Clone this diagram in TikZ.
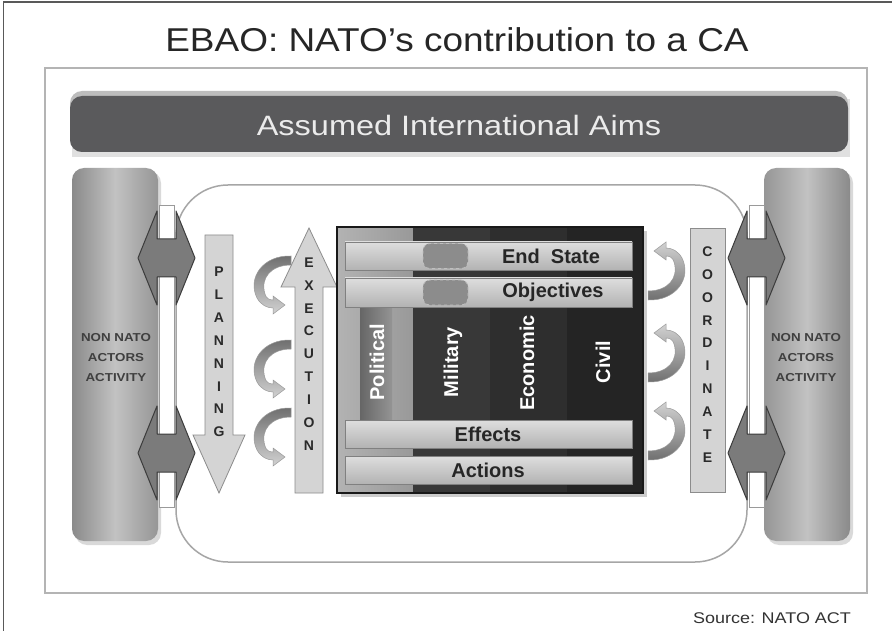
\documentclass[tikz,border=0pt]{standalone}
\usepackage{fontspec}
\setmainfont{Liberation Sans}
\usepackage{graphicx}
\definecolor{framegray}{HTML}{B4B4B4}
\definecolor{aimbar}{HTML}{5A5A5C}
\definecolor{aimtop}{HTML}{BDBDBD}
\definecolor{boxdark}{HTML}{8A8A8A}
\definecolor{boxlight}{HTML}{C2C2C2}
\definecolor{arrowgray}{HTML}{7B7B7B}
\definecolor{arrowdark}{HTML}{3C3C3C}
\definecolor{pipeline}{HTML}{9A9A9A}
\definecolor{lightfill}{HTML}{D4D4D4}
\definecolor{lightline}{HTML}{8C8C8C}
\definecolor{curldark}{HTML}{6E6E6E}
\definecolor{curllight}{HTML}{D2D2D2}
\definecolor{textdark}{HTML}{2A2A2A}
\newcommand{\hstretch}[1]{\scalebox{1.16}[1]{#1}}
\tikzset{
  dbl/.style={fill=arrowgray, draw=arrowdark, line width=1pt, line join=round},
  pipe/.style={fill=white, draw=pipeline, line width=0.8pt},
  lightarrow/.style={fill=lightfill, draw=lightline, line width=0.8pt, line join=miter},
  vlet/.style={font=\fontsize{14}{22.9}\selectfont\bfseries, align=center, inner sep=0pt, text=textdark},
  actor/.style={font=\fontsize{11.5}{20}\selectfont\bfseries, align=center, inner sep=0pt, text=textdark!90},
  barbox/.style={top color=black!13, bottom color=black!30, draw=black!50, line width=0.8pt},
  bartext/.style={font=\fontsize{20}{22}\selectfont\bfseries, text=black!85, inner sep=0pt},
  coltext/.style={font=\fontsize{20}{22}\selectfont\bfseries, text=white, inner sep=0pt, rotate=90},
  puzzle/.style={fill=black!45, draw=black!25, dashed, line width=0.8pt, rounded corners=7pt, minimum width=45pt, minimum height=25pt, inner sep=0pt},
  pics/dblarrow/.style={code={
    \draw[dbl] (-28.5,0) -- (-9.5,-47) -- (-9.5,-19) -- (9.5,-19) -- (9.5,-47) -- (28.5,0)
      -- (9.5,47) -- (9.5,19) -- (-9.5,19) -- (-9.5,47) -- cycle;}},
  pics/curlL/.style={code={
    \shade[top color=curldark, bottom color=curllight, draw=black!40, line width=0.5pt]
      (0,0) .. controls (-28,-1) and (-44,22) .. (-34,42) .. controls (-30,49) and (-24,52) .. (-18,52)
      -- (-18,58) -- (-6,49) -- (-18,40) -- (-18,44)
      .. controls (-22,44) and (-25,42) .. (-26,38) .. controls (-31,22) and (-20,9) .. (0,9) -- cycle;}},
  pics/curlR/.style={code={
    \shade[top color=curllight, bottom color=curldark, draw=black!40, line width=0.5pt]
      (0,0) .. controls (28,1) and (44,-22) .. (34,-42) .. controls (30,-49) and (24,-52) .. (18,-52)
      -- (18,-58) -- (6,-49) -- (18,-40) -- (18,-44)
      .. controls (22,-44) and (25,-42) .. (26,-38) .. controls (31,-22) and (20,-9) .. (0,-9) -- cycle;}}
}
\begin{document}
\begin{tikzpicture}[x=1pt,y=-1pt]
\useasboundingbox (0,0) rectangle (892,631);
\fill[white] (0,0) rectangle (892,631);
% outer image border
\draw[black!65, line width=1.5pt] (3.5,631) -- (3.5,2) -- (892,2);
% title
\node[font=\fontsize{33}{38}\selectfont, text=black!85, inner sep=0pt] (title) at (457,40) {\scalebox{1.12}[1]{EBAO: NATO's contribution to a CA}};
% diagram frame
\draw[framegray, line width=2pt] (45,68) rectangle (867,593);
% aims bar
\fill[black!12] (72,99) rectangle (850,157);
\fill[aimtop, rounded corners=12pt] (70,91) rectangle (848,152);
\node[fill=aimbar, rounded corners=12pt, minimum width=778pt, minimum height=56pt, inner sep=0pt] (aims) at (459,124) {};
\node[font=\fontsize{28}{32}\selectfont, text=black!8, inner sep=0pt] (aimstext) at (459,125) {\hstretch{Assumed International Aims}};
% central frame
\draw[black!35, line width=1.5pt, fill=white, rounded corners=52pt] (176,185) rectangle (747,562);
% non nato boxes
\fill[black!15, rounded corners=12pt] (75,171) rectangle (161,545);
\shade[left color=boxdark, right color=boxdark!90, middle color=boxlight, rounded corners=12pt] (72,168) rectangle (158,541);
\fill[black!15, rounded corners=12pt] (767,171) rectangle (853,545);
\shade[left color=boxdark!90, right color=boxdark, middle color=boxlight, rounded corners=12pt] (764,168) rectangle (850,541);
\node[actor] (nnl) at (116,358) {\hstretch{NON NATO}\\\hstretch{ACTORS}\\\hstretch{ACTIVITY}};
\node[actor] (nnr) at (806,358) {\hstretch{NON NATO}\\\hstretch{ACTORS}\\\hstretch{ACTIVITY}};
% pipes
\draw[pipe] (159,205) rectangle (174,507);
\draw[pipe] (749,205) rectangle (764,507);
% double arrows
\pic at (166.5,258) {dblarrow};
\pic at (166.5,453) {dblarrow};
\pic at (756.5,258) {dblarrow};
\pic at (756.5,453) {dblarrow};
% planning arrow
\draw[lightarrow] (205,235) -- (233,235) -- (233,435) -- (245,435) -- (219,493) -- (193,435) -- (205,435) -- cycle;
\node[vlet] (plan) at (219,352) {P\\L\\A\\N\\N\\I\\N\\G};
% execution arrow
\draw[lightarrow] (295,493) -- (323,493) -- (323,287) -- (337,287) -- (309,228) -- (281,287) -- (295,287) -- cycle;
\node[vlet] (exec) at (309,354) {E\\X\\E\\C\\U\\T\\I\\O\\N};
% curls
\pic at (291,256) {curlL};
\pic at (291,340) {curlL};
\pic at (291,408) {curlL};
\pic at (648,300) {curlR};
\pic at (648,382) {curlR};
\pic at (648,460) {curlR};
% coordinate bar
\draw[lightarrow] (690,228) rectangle (725,492);
\node[vlet] (coord) at (707.5,354.5) {C\\O\\O\\R\\D\\I\\N\\A\\T\\E};
% matrix
\fill[black!20] (341,231) rectangle (647,497);
\shade[left color=black!30, right color=black!40] (338,227) rectangle (413,493);
\shade[left color=black!60, right color=black!42] (360,307) rectangle (392,420);
\shade[left color=black!78, middle color=black!64, right color=black!78] (413,227) rectangle (490,493);
\shade[left color=black!82, middle color=black!72, right color=black!82] (490,227) rectangle (567,493);
\shade[left color=black!86, middle color=black!78, right color=black!86] (567,227) rectangle (643,493);
\draw[black!90, line width=1.5pt] (337,227) rectangle (643,493);
\draw[barbox] (345,242) rectangle (632,270);
\draw[barbox] (345,278) rectangle (632,307);
\draw[barbox] (345,420) rectangle (632,448);
\draw[barbox] (345,456) rectangle (632,484);
\node[puzzle] (pz1) at (445.5,256) {};
\node[puzzle] (pz2) at (445.5,292.5) {};
\node[bartext] (endstate) at (551,256) {End\ \ State};
\node[bartext] (objectives) at (553,292.5) {Objectives};
\node[bartext] (effects) at (488,434) {Effects};
\node[bartext] (actions) at (488,470) {Actions};
\node[coltext] (political) at (377,362) {Political};
\node[coltext] (military) at (453,362) {Military};
\node[coltext] (economic) at (527,363) {Economic};
\node[coltext] (civil) at (603,362) {Civil};
% source
\node[font=\fontsize{15.5}{18}\selectfont, text=black!80, inner sep=0pt] (source) at (772,618) {\hstretch{Source: NATO ACT}};
\end{tikzpicture}
\end{document}
